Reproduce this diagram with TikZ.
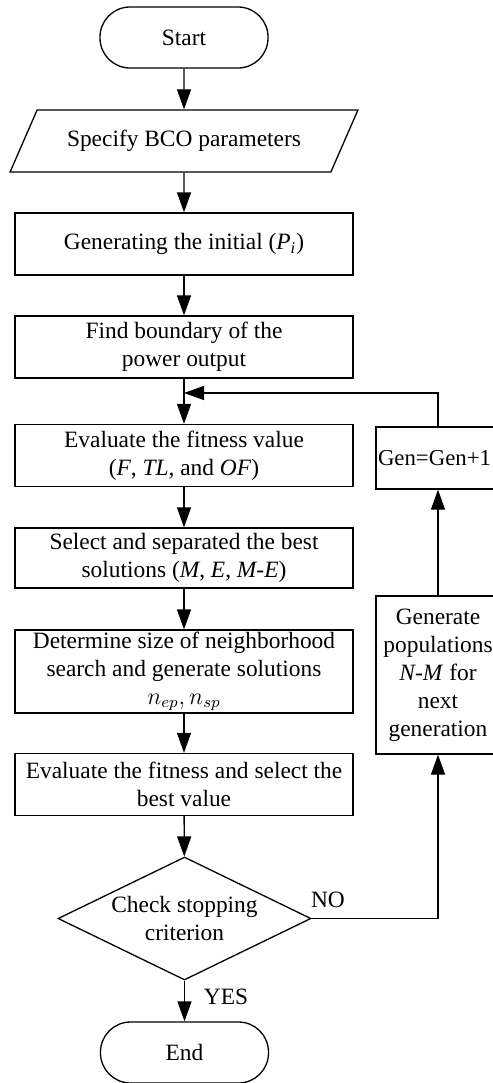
\documentclass[tikz,border=0pt]{standalone}
\usepackage{fontspec}
\setmainfont{Liberation Serif}
\usepackage{amsmath}
\usetikzlibrary{arrows.meta,shapes.geometric}

\begin{document}
\begin{tikzpicture}[x=0.5pt, y=-0.5pt, line width=0.65pt,
  every node/.style={font=\fontsize{11.7pt}{14pt}\selectfont, align=center, inner sep=0pt},
  flowbox/.style={draw, rectangle, minimum width=169pt, minimum height=31pt},
  sidebox/.style={draw, rectangle, minimum width=62pt, minimum height=31pt},
  termbox/.style={draw, rectangle, rounded corners=15pt, minimum width=84pt, minimum height=30.5pt},
  iobox/.style={draw, trapezium, trapezium left angle=45, trapezium right angle=135,
    trapezium stretches=true, minimum width=174pt, minimum height=31pt},
  testbox/.style={draw, diamond, aspect=2.06, minimum width=126.5pt, minimum height=61.5pt},
  flow/.style={-{Triangle[length=10pt, width=7pt]}}]

\useasboundingbox (0,0) rectangle (493,1083);

\node[termbox] (start) at (184,37.5) {Start};

\node[iobox] (spec) at (184,141) {Specify BCO parameters};

\node[flowbox] (init) at (184,244) {Generating the initial (\textit{P}\textsubscript{\textit{i}})};

\node[flowbox] (bound) at (184,347) {Find boundary of the\\power output};

\node[flowbox] (fit) at (184,455.5) {Evaluate the fitness value\\(\textit{F}, \textit{TL}, and \textit{OF})};

\node[flowbox, minimum height=30pt] (sel) at (184,558) {Select and separated the best\\solutions (\textit{M}, \textit{E}, \textit{M-E})};

\node[flowbox, minimum height=41.5pt] (size) at (184,671.5) {Determine size of neighborhood\\search and generate solutions\\$n_{ep},n_{sp}$};

\node[flowbox] (best) at (184,784.5) {Evaluate the fitness and select the\\best value};

\node[testbox] (check) at (184.5,918.5) {Check stopping\\criterion};

\node[termbox] (stop) at (184.5,1052.5) {End};

\node[sidebox, text width=60pt, align=left, font=\fontsize{11.4pt}{14pt}\selectfont] (gen) at (438,458) {Gen=Gen+1};

\node[sidebox, minimum height=79pt] (pop) at (438,675) {Generate\\populations\\\textit{N-M} for\\next\\generation};

\coordinate (join) at (184,393);

\draw[flow] (start) -- (spec);
\draw[flow] (spec) -- (init);
\draw[flow] (init) -- (bound);
\draw[flow] (bound) -- (fit);
\draw[flow] (fit) -- (sel);
\draw[flow] (sel) -- (size);
\draw[flow] (size) -- (best);
\draw[flow] (best) -- (check);
\draw[flow] (check) -- (stop);
\draw[flow] (check.east) -| (pop.south);
\draw[flow] (pop) -- (gen);
\draw[flow] (gen.north) |- (join);

\node (no) at (328,900) {NO};
\node (yes) at (226,997) {YES};
\end{tikzpicture}
\end{document}
